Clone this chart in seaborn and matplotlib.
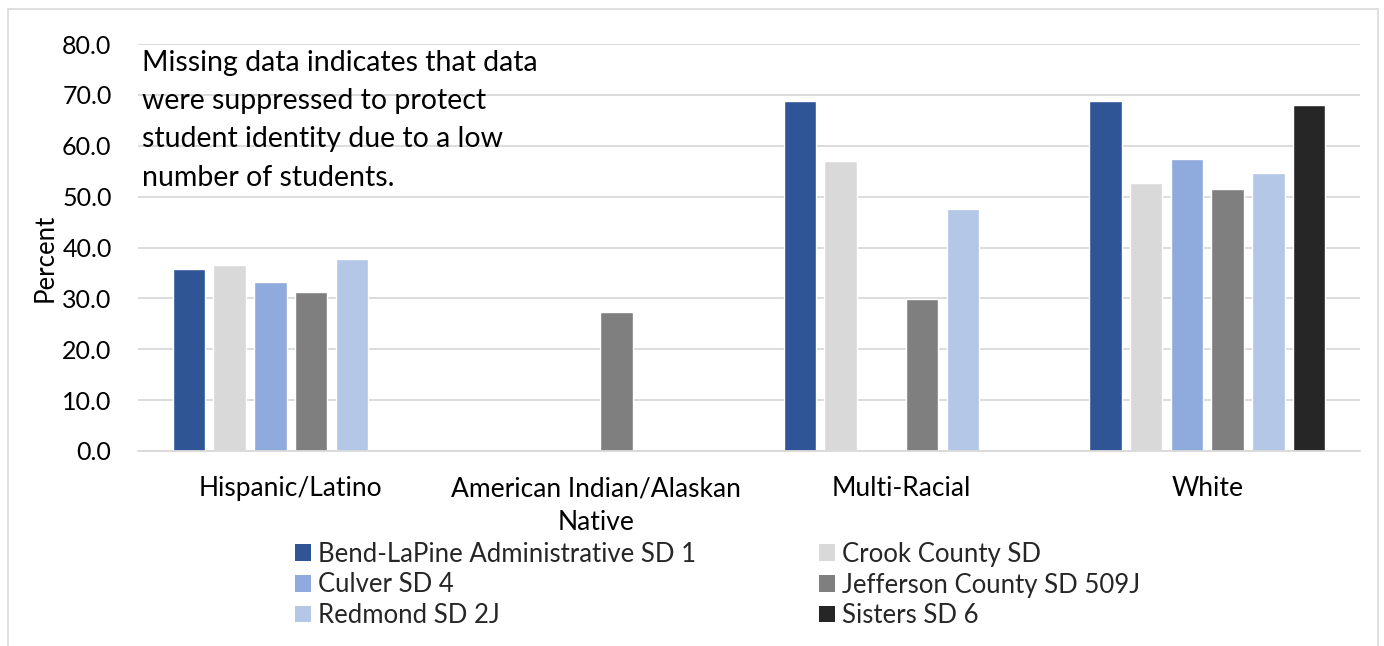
import numpy as np
import pandas as pd
import matplotlib
matplotlib.use("Agg")
import matplotlib.pyplot as plt
import seaborn as sns
from matplotlib.patches import Rectangle

categories = ["Hispanic/Latino", "American Indian/Alaskan\nNative", "Multi-Racial", "White"]
districts = ["Bend-LaPine Administrative SD 1", "Crook County SD", "Culver SD 4",
             "Jefferson County SD 509J", "Redmond SD 2J", "Sisters SD 6"]
bend = [35.7, np.nan, 68.8, 68.8]
crook = [36.5, np.nan, 57.0, 52.6]
culver = [33.3, np.nan, np.nan, 57.4]
jefferson = [31.3, 27.4, 29.8, 51.5]
redmond = [37.7, np.nan, 47.5, 54.6]
sisters = [np.nan, np.nan, np.nan, 68.0]
colors = ["#2F5597", "#D9D9D9", "#8FAADC", "#7F7F7F", "#B4C7E7", "#262626"]

series = [bend, crook, culver, jefferson, redmond, sisters]
rows = []
for d, vals in zip(districts, series):
    for c, v in zip(categories, vals):
        rows.append({"Category": c, "District": d, "Percent": v})
df = pd.DataFrame(rows)

sns.set_theme(style="white")
FONT = ["Lato", "DejaVu Sans"]
plt.rcParams["font.family"] = FONT

fig = plt.figure(figsize=(13.84, 6.46), dpi=100)
ax = fig.add_axes([138/1384, 1-451/646, (1360-138)/1384, (451-44)/646])

sns.barplot(data=df, x="Category", y="Percent", hue="District", order=categories,
            hue_order=districts, palette=colors, width=0.8, gap=0.2,
            errorbar=None, ax=ax, legend=False, saturation=1)

ax.set_ylim(0, 80)
ax.set_xlim(-0.5, 3.5)
ax.set_yticks(np.arange(0, 81, 10))
ax.set_yticklabels([f"{v:.1f}" for v in np.arange(0, 81, 10)], fontsize=18, color="#000000")
ax.tick_params(axis="y", length=0, pad=19)
ax.tick_params(axis="x", length=0, pad=18, labelsize=19, labelcolor="#000000")
ax.yaxis.grid(True, color="#D9D9D9", linewidth=1.3)
ax.set_axisbelow(True)
for s in ["top", "right", "left"]:
    ax.spines[s].set_visible(False)
ax.spines["bottom"].set_color("#D9D9D9")
ax.spines["bottom"].set_linewidth(1.3)
ax.set_xlabel("")
ax.set_ylabel("")
fig.text(45/1384, 1-258/646, "Percent", rotation=90, fontsize=18.5, color="#000000",
         ha="center", va="center")
for lab in ax.get_xticklabels():
    lab.set_linespacing(1.45)

fig.text(142/1384, 1-50/646, "Missing data indicates that data\nwere suppressed to protect\nstudent identity due to a low\nnumber of students.",
         fontsize=20.5, va="top", ha="left", linespacing=1.58, color="#000000")

handles = [Rectangle((0, 0), 1, 1, facecolor=c, edgecolor="none") for c in colors]
order = [0, 2, 4, 1, 3, 5]
fig.legend([handles[i] for i in order], [districts[i] for i in order], ncol=2,
           loc="upper left", bbox_to_anchor=(282/1384, 1-529/646), frameon=False,
           fontsize=18.5, handlelength=0.62, handleheight=0.62, handletextpad=0.27,
           columnspacing=4.8, labelspacing=0.22, borderpad=0)

fig.patches.append(Rectangle((8/1384, -0.01), (1378-8)/1384, 1-9/646+0.01, transform=fig.transFigure,
                             fill=False, edgecolor="#D9D9D9", linewidth=1.2))

fig.savefig("out.png", dpi=100)
